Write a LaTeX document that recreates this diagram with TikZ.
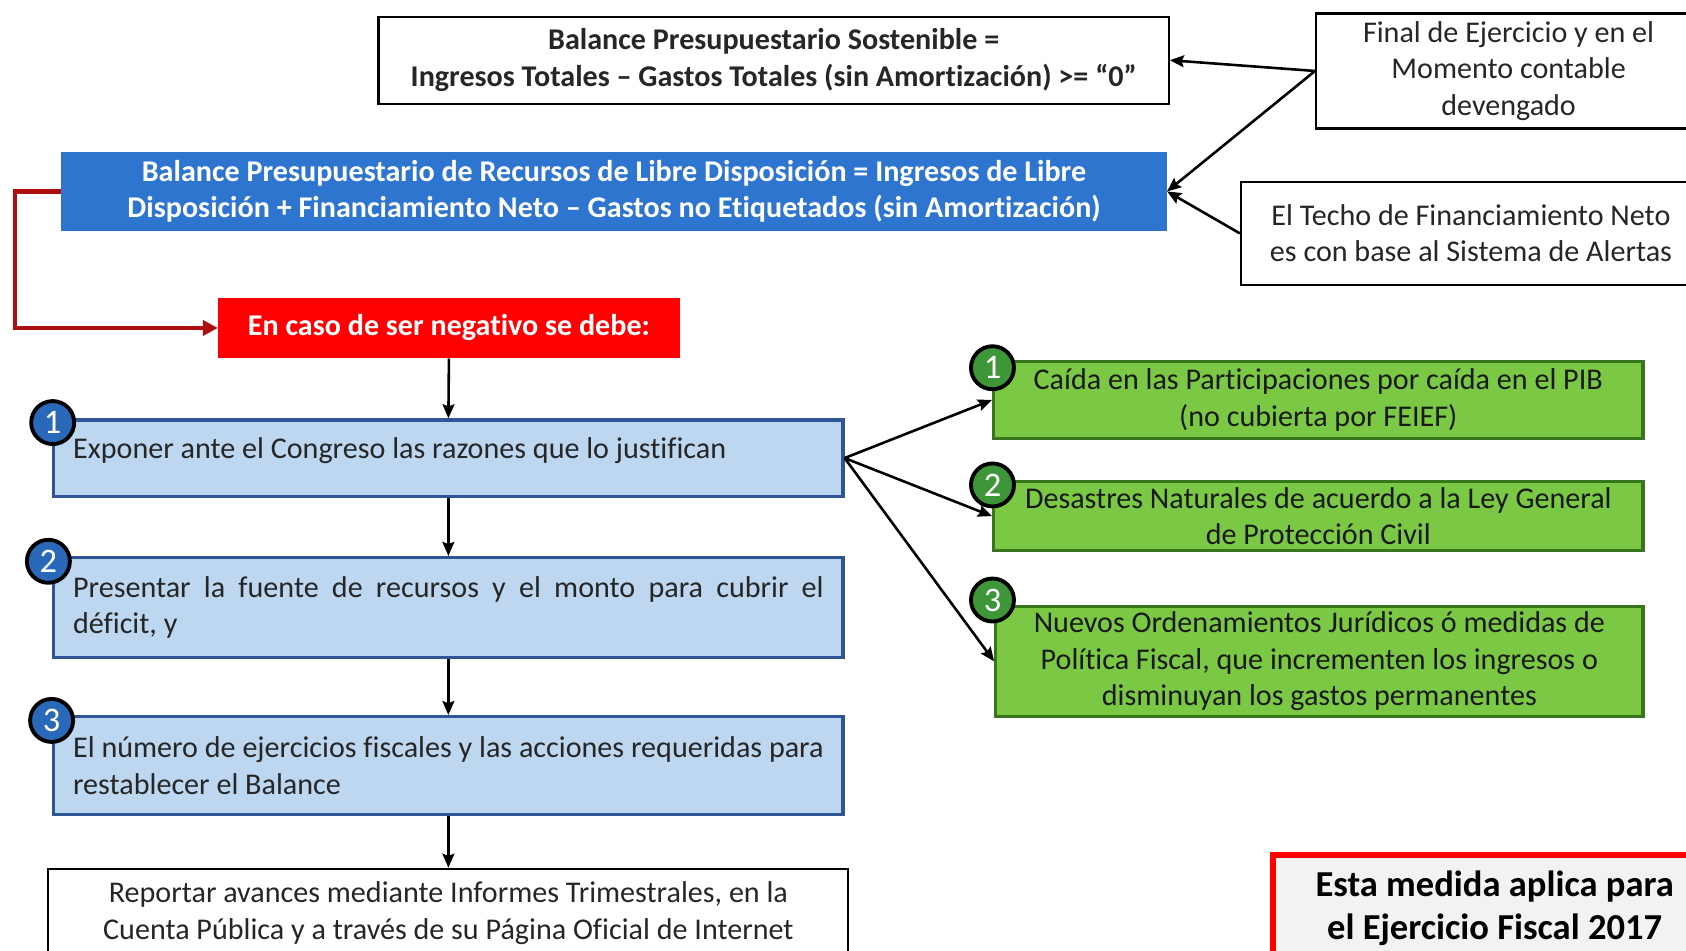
\documentclass[tikz,border=0pt]{standalone}
\usepackage{fontspec}
\setmainfont{Carlito}[Ligatures={NoCommon}, Contextuals={NoAlternate}]
\usetikzlibrary{arrows.meta}
\definecolor{bluebox}{RGB}{46,117,208}
\definecolor{lightblue}{RGB}{189,215,240}
\definecolor{blueedge}{RGB}{47,85,151}
\definecolor{bluecirc}{RGB}{42,105,186}
\definecolor{greenbox}{RGB}{122,200,68}
\definecolor{greenedge}{RGB}{56,118,29}
\definecolor{greencirc}{RGB}{61,150,55}
\definecolor{darkredline}{RGB}{176,14,14}
\definecolor{txt}{RGB}{38,38,38}
\definecolor{greybox}{RGB}{242,242,242}
\begin{document}
\begin{tikzpicture}[x=0.5pt,y=-0.5pt,
  base/.style={rectangle, inner sep=0pt, align=center, text=txt,
    font=\fontsize{14pt}{17pt}\selectfont},
  whitebox/.style={base, draw=black, line width=1pt, fill=white},
  lbbox/.style={base, draw=blueedge, line width=1.5pt, fill=lightblue,
    inner xsep=9pt, text width=349pt, minimum width=367pt, align=justify},
  gbox/.style={base, draw=greenedge, line width=1.5pt, fill=greenbox,
    minimum width=302pt, text=black!90},
  circb/.style={circle, draw=black, line width=1.8pt, fill=bluecirc, text=white,
    minimum size=20pt, inner sep=0pt, font=\fontsize{16pt}{16pt}\selectfont},
  circg/.style={circb, fill=greencirc},
  arr/.style={-{Stealth[length=6.5pt,width=5.5pt,inset=1pt]}, line width=1.2pt, black},
  redarr/.style={-{Triangle[length=7pt,width=7pt]}, line width=2pt, darkredline}
]
\useasboundingbox (0,0) rectangle (1568,884);
\clip (0,0) rectangle (1568,884);
\fill[white] (0,0) rectangle (1568,884);

% top row
\node[whitebox, minimum width=367.5pt, minimum height=40.5pt,
  font=\fontsize{14pt}{17pt}\selectfont\bfseries] (top) at (719.5,56)
  {Balance Presupuestario Sostenible =\\Ingresos Totales – Gastos Totales (sin Amortización) >= “0”};
\node[whitebox, minimum width=179pt, minimum height=53.5pt] (final) at (1403,66)
  {Final de Ejercicio y en el\\Momento contable\\devengado};
\node[whitebox, minimum width=214pt, minimum height=48pt] (techo) at (1368,217)
  {El Techo de Financiamiento Neto\\es con base al Sistema de Alertas};
\node[base, fill=bluebox, text=white, minimum width=514pt, minimum height=37pt,
  font=\fontsize{14pt}{17pt}\selectfont\bfseries] (blue) at (571,178)
  {Balance Presupuestario de Recursos de Libre Disposición = Ingresos de Libre\\Disposición + Financiamiento Neto – Gastos no Etiquetados (sin Amortización)};

% red box
\node[base, fill=red, text=white, minimum width=214.5pt, minimum height=28pt,
  font=\fontsize{14pt}{17pt}\selectfont\bfseries] (red) at (417.5,305)
  {En caso de ser negativo se debe:};

% light blue steps
\node[lbbox, minimum height=35.5pt, text height=10pt, text depth=10pt] (b1) at (417,426)
  {Exponer ante el Congreso las razones que lo justifican};
\node[lbbox, minimum height=46.5pt] (b2) at (417,565)
  {\hyphenpenalty=10000 Presentar la fuente de recursos y el monto para cubrir el\linebreak déficit, y};
\node[lbbox, minimum height=45.5pt] (b3) at (417,712)
  {\hyphenpenalty=10000 El número de ejercicios fiscales y las acciones requeridas para\linebreak restablecer el Balance};
\node[whitebox, minimum width=372pt, minimum height=41pt] (rep) at (417,849)
  {Reportar avances mediante Informes Trimestrales, en la\\Cuenta Pública y a través de su Página Oficial de Internet};

% green boxes
\node[gbox, minimum height=36pt] (g1) at (1226,372)
  {Caída en las Participaciones por caída en el PIB\\(no cubierta por FEIEF)};
\node[gbox, minimum height=32pt] (g2) at (1226,480)
  {Desastres Naturales de acuerdo a la Ley General\\de Protección Civil};
\node[gbox, minimum width=301pt, minimum height=51pt] (g3) at (1227,615)
  {Nuevos Ordenamientos Jurídicos ó medidas de\\Política Fiscal, que incrementen los ingresos o\\disminuyan los gastos permanentes};

% note box
\node[base, draw=red, line width=2.5pt, fill=greybox, text=black,
  minimum width=206pt, minimum height=50pt,
  font=\fontsize{17pt}{20pt}\selectfont\bfseries] (esta) at (1390,845)
  {Esta medida aplica para\\el Ejercicio Fiscal 2017};

% connectors
\draw[arr] (final.west) -- (top.east);
\draw[arr] (final.west) -- (blue.east);
\draw[arr] (techo.west) -- (blue.east);
\coordinate (r1) at (14,178);
\coordinate (r2) at (14,305);
\draw[redarr] (blue.west) -- (r1) -- (r2) -- (red.west);
\draw[arr] (red.south) -- (b1.north);
\draw[arr] (b1.south) -- (b2.north);
\draw[arr] (b2.south) -- (b3.north);
\draw[arr] (b3.south) -- (rep.north);
\draw[arr] (b1.east) -- (g1.west);
\draw[arr] (b1.east) -- (g2.west);
\draw[arr] (b1.east) -- (g3.west);

% number circles
\node[circb] (c1) at (49,393) {1};
\node[circb] (c2) at (45,522) {2};
\node[circb] (c3) at (48,670) {3};
\node[circg] (gc1) at (923,342) {1};
\node[circg] (gc2) at (923,451) {2};
\node[circg] (gc3) at (923,558) {3};
\end{tikzpicture}
\end{document}
